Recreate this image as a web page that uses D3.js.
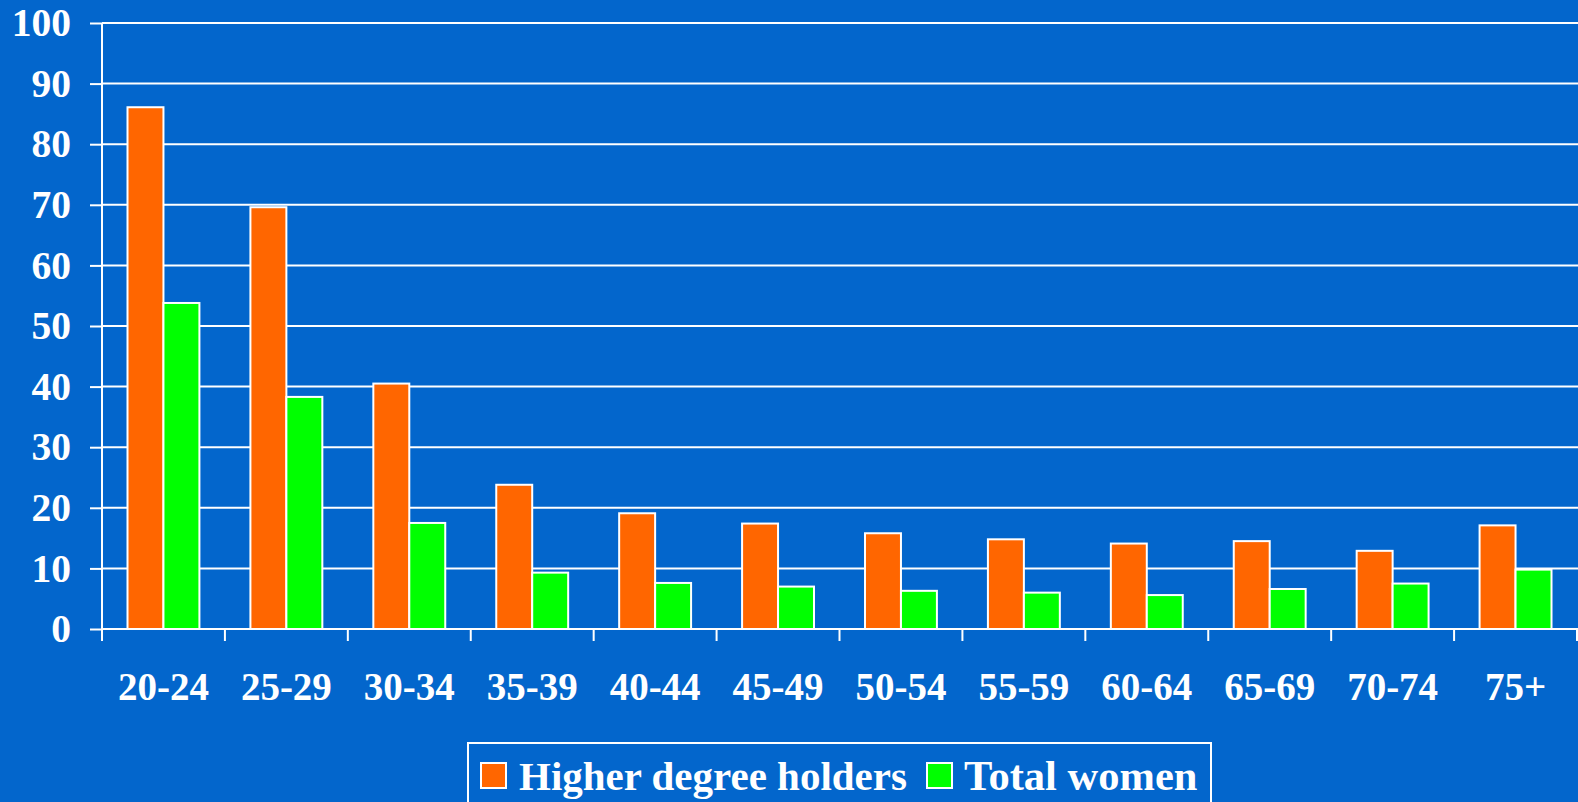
<!DOCTYPE html>
<html><head><meta charset="utf-8">
<script src="https://cdn.jsdelivr.net/npm/d3@7"></script>
<style>html,body{margin:0;padding:0;background:#0366CC;overflow:hidden}</style>
</head><body>
<svg id="chart" width="1578" height="802"></svg>
<script>
const categories = ["20-24","25-29","30-34","35-39","40-44","45-49","50-54","55-59","60-64","65-69","70-74","75+"];
const seriesNames = ["Higher degree holders","Total women"];
const higherDegree = [86.1,69.6,40.5,23.8,19.1,17.4,15.8,14.8,14.1,14.5,12.9,17.1];
const totalWomen = [53.8,38.3,17.5,9.3,7.6,7.0,6.3,6.0,5.6,6.6,7.5,9.8];
const yTicks = [0,10,20,30,40,50,60,70,80,90,100];
const colors = ["#FF6600","#00FF00"];

const W=1578,H=802;
const svg=d3.select("#chart");
svg.append("rect").attr("width",W).attr("height",H).attr("fill","#0366CC");
const font='"Liberation Serif","Times New Roman",serif';

const x=d3.scaleBand().domain(categories).range([102,1577]).paddingInner(0).paddingOuter(0);
const bw=x.bandwidth();
const xs=d3.scaleBand().domain(seriesNames).range([25.5,bw-25.5]).paddingInner(0);
const y=d3.scaleLinear().domain([0,100]).range([629,23]);

// grid
svg.append("g").selectAll("line").data(yTicks.filter(d=>d>0)).join("line")
  .attr("x1",102).attr("x2",W).attr("y1",d=>y(d)).attr("y2",d=>y(d))
  .attr("stroke","#fff").attr("stroke-width",2);

// bars
const data=categories.map((c,i)=>({c,vals:[higherDegree[i],totalWomen[i]]}));
const g=svg.append("g").selectAll("g").data(data).join("g").attr("transform",d=>`translate(${x(d.c)},0)`);
g.selectAll("rect").data(d=>d.vals.map((v,j)=>({v,s:seriesNames[j],j}))).join("rect")
  .attr("x",d=>xs(d.s)).attr("width",xs.bandwidth())
  .attr("y",d=>y(d.v)).attr("height",d=>y(0)-y(d.v))
  .attr("fill",d=>colors[d.j]).attr("stroke","#fff").attr("stroke-width",2);

// y axis
const ya=svg.append("g").attr("transform","translate(102,0)")
  .call(d3.axisLeft(y).tickValues(yTicks).tickSize(12).tickPadding(19).tickFormat(d3.format("d")));
ya.select(".domain").attr("stroke","#fff").attr("stroke-width",2).attr("d",`M0,${y(100)}V${y(0)}`);
ya.selectAll(".tick line").attr("stroke","#fff").attr("stroke-width",2);
ya.selectAll(".tick text").attr("fill","#fff").attr("font-family",font).attr("font-weight","bold").attr("font-size",39.5);

// x axis
svg.append("line").attr("x1",102).attr("x2",W).attr("y1",y(0)).attr("y2",y(0)).attr("stroke","#fff").attr("stroke-width",2);
const bounds=categories.map(c=>x(c)).concat([x.range()[1]]);
svg.append("g").selectAll("line").data(bounds).join("line")
  .attr("x1",d=>d).attr("x2",d=>d).attr("y1",y(0)).attr("y2",y(0)+12)
  .attr("stroke","#fff").attr("stroke-width",2);
svg.append("g").selectAll("text").data(categories).join("text")
  .attr("x",d=>x(d)+bw/2).attr("y",700).attr("text-anchor","middle")
  .attr("fill","#fff").attr("font-family",font).attr("font-weight","bold").attr("font-size",39)
  .text(d=>d);

// legend
const lg=svg.append("g");
lg.append("rect").attr("x",468).attr("y",743).attr("width",743).attr("height",70)
  .attr("fill","none").attr("stroke","#fff").attr("stroke-width",2);
const legendItems=[{name:seriesNames[0],sx:481,tx:519,fs:41},{name:seriesNames[1],sx:927,tx:964,fs:42.5}];
legendItems.forEach((it,i)=>{
  lg.append("rect").attr("x",it.sx).attr("y",763).attr("width",25).attr("height",25)
    .attr("fill",colors[i]).attr("stroke","#fff").attr("stroke-width",2);
  lg.append("text").attr("x",it.tx).attr("y",790).attr("fill","#fff")
    .attr("font-family",font).attr("font-weight","bold").attr("font-size",it.fs).text(it.name);
});
</script>
</body></html>
